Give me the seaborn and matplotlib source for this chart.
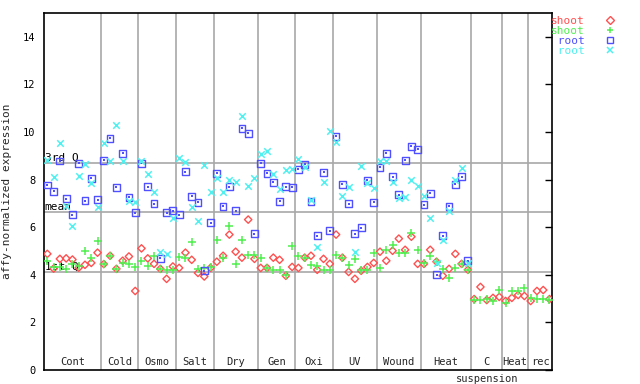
import numpy as np
import pandas as pd
import matplotlib
matplotlib.use("Agg")
import matplotlib.pyplot as plt
import matplotlib.transforms as mtransforms
from matplotlib.lines import Line2D
import seaborn as sns

# condition groups along the x axis (number of samples in each)
group_labels = ["Cont", "Cold", "Osmo", "Salt", "Dry", "Gen", "Oxi", "UV",
                "Wound", "Heat", "C\nsuspension", "Heat", "rec"]
group_sizes = [9, 6, 6, 6, 7, 6, 6, 7, 7, 8, 5, 4, 4]

# summary lines
q3_value = 8.69
mean_value = 6.62
q1_value = 4.10

nan = np.nan

shoot_rep1 = [4.88, 4.26, 4.67, 4.69, 4.64, 4.30, 4.42, 4.50, 4.93,
              4.45, 4.80, 4.25, 4.59, 4.77, 3.32,
              5.11, 4.69, 4.46, 4.25, 3.83, 4.35,
              4.29, 4.93, 4.63, 4.08, 3.93, 4.29,
              4.55, 4.80, 5.69, 4.97, 4.72, 6.32, 4.67,
              4.29, 4.29, 4.72, 4.63, 3.96, 4.33,
              4.29, 4.72, 4.80, 4.21, 4.67, 4.46,
              5.69, 4.72, 4.12, 3.83, 4.17, 4.33, 4.50,
              4.97, 4.59, 5.01, 5.52, 5.05, 5.60, 4.46,
              4.46, 5.05, 4.55, 3.96, 4.25, 4.88, 4.46, 4.21,
              2.98, 3.49, 2.94, 3.03, 3.07,
              2.90, 3.03, 3.15, 3.11,
              2.90, 3.32, 3.36, 2.98]

shoot_rep2 = [4.60, 4.32, 4.32, 4.25, 4.46, 4.35, 5.02, 4.71, 5.40,
              4.46, 4.77, 4.25, 4.50, 4.46, 4.32,
              4.56, 4.38, 4.80, 4.23, 4.21, 4.21,
              4.76, 4.72, 5.39, 4.25, 4.30, 4.33,
              5.47, 4.72, 6.07, 4.46, 5.47, 4.84, 4.84,
              4.72, 4.29, 4.21, 4.21, 4.00, 5.22,
              4.80, 4.72, 4.42, 4.38, 4.21, 4.21,
              4.84, 4.72, 4.42, 4.67, 4.21, 4.21, 4.93,
              4.29, 5.05, 5.26, 4.93, 4.93, 5.77, 5.05,
              4.50, 4.80, 4.55, 4.25, 3.87, 4.29, 4.46, 4.21,
              2.94, 2.94, 2.98, 2.90, 3.36,
              2.82, 3.32, 3.32, 3.45,
              3.03, 2.98, 2.98, 2.94]

root_rep1 = [7.77, 7.51, 8.78, 7.20, 6.53, 8.68, 7.12, 8.05, 7.16,
             8.81, 9.74, 7.67, 9.10, 7.25, 6.61,
             8.68, 7.71, 6.99, 4.69, 6.61, 6.70,
             6.53, 8.34, 7.29, 7.04, 4.17, 6.19,
             8.26, 6.87, 7.71, 6.70, 10.16, 9.95, 5.73,
             8.68, 8.26, 7.88, 7.08, 7.71, 7.67,
             8.43, 8.64, 7.08, 5.64, 8.30, 5.85,
             9.82, 7.80, 6.99, 5.73, 5.98, 7.97, 7.04,
             8.51, 9.10, 8.13, 7.37, 8.81, 9.40, 9.27,
             6.95, 7.42, 4.00, 5.64, 6.87, 7.80, 8.13, 4.59,
             nan, nan, nan, nan, nan,
             nan, nan, nan, nan,
             nan, nan, nan, nan]

root_rep2 = [8.82, 8.09, 9.53, 6.88, 6.06, 8.15, 8.64, 7.84, 6.83,
             9.53, 8.78, 10.29, 8.78, 7.10, 7.04,
             8.78, 8.22, 7.47, 4.95, 4.88, 6.40,
             8.89, 8.72, 6.83, 6.25, 8.60, 7.50,
             8.05, 7.46, 7.97, 7.88, 10.68, 7.75, 8.05,
             9.06, 9.19, 8.22, 7.59, 8.39, 8.43,
             8.85, 8.51, 7.16, 5.18, 7.92, 10.03,
             9.57, 7.29, 7.67, 4.97, 8.56, 7.84, 7.63,
             8.77, 8.77, 7.88, 7.21, 7.25, 7.97, 7.75,
             7.33, 6.40, 4.50, 5.47, 6.70, 7.97, 8.47, 4.50,
             nan, nan, nan, nan, nan,
             nan, nan, nan, nan,
             nan, nan, nan, nan]

series = [
    ("shoot", shoot_rep1, "#ff5050", "D", 14),
    ("shoot", shoot_rep2, "#50f050", "+", 30),
    (" root", root_rep1, "#5050ff", "s", 24),
    (" root", root_rep2, "#50f0f0", "x", 22),
]

sns.set_style("white")
plt.rcParams["font.family"] = ["DejaVu Sans Mono"]
plt.rcParams["font.size"] = 7.5

fig, ax = plt.subplots(figsize=(6.4, 3.84), dpi=100)
fig.subplots_adjust(left=44 / 640, right=552 / 640, bottom=14 / 384, top=1 - 13 / 384)

sample_idx = np.arange(len(shoot_rep1))
grid_col = "#a8a8a8"

# group separators and summary lines
bounds = np.cumsum(group_sizes)[:-1] - 0.5
for b in bounds:
    ax.axvline(b, color=grid_col, lw=1.2, zorder=1)
for val in [q3_value, mean_value, q1_value]:
    ax.axhline(val, color=grid_col, lw=1.2, zorder=1)

for name, vals, col, mk, sz in series:
    df = pd.DataFrame({"sample": sample_idx, "value": vals}).dropna()
    if mk in ("+", "x"):
        sns.scatterplot(data=df, x="sample", y="value", marker=mk, s=sz,
                        color=col, linewidth=1.1, ax=ax, zorder=3)
    else:
        sns.scatterplot(data=df, x="sample", y="value", marker=mk, s=sz,
                        facecolor="none", edgecolor=col, linewidth=1.0,
                        ax=ax, zorder=3)
        if mk == "s":
            sns.scatterplot(data=df, x="sample", y="value", marker="s", s=1.5,
                            color=col, linewidth=0, ax=ax, zorder=3)

ax.set_xlim(-0.53, 80.4)
ax.set_ylim(0, 15)
ax.set_xticks([])
ax.set_yticks(np.arange(0, 15, 2))
ax.tick_params(axis="y", direction="in", length=5, width=1, right=True,
               labelright=False, colors="black", pad=6)
ax.set_xlabel("")
ax.set_ylabel("affy-normalized expression", fontsize=8, labelpad=8)
for sp in ax.spines.values():
    sp.set_color("black")
    sp.set_linewidth(1.2)

# quartile labels
for val, lab in [(q3_value, "3rd Q"), (mean_value, "mean"), (q1_value, "1st Q")]:
    ax.text(-0.45, val + 0.02, lab, ha="left", va="bottom", color="black",
            fontsize=8, zorder=2)

# group labels
trans = mtransforms.blended_transform_factory(ax.transData, ax.transAxes)
start = 0
for lab, n in zip(group_labels, group_sizes):
    center = start + (n - 1) / 2
    parts = lab.split("\n")
    ax.text(center, 0.008, parts[0], transform=trans, ha="center", va="bottom")
    if len(parts) > 1:
        ax.text(center, -0.012, parts[1], transform=trans, ha="center", va="top")
    start += n

# legend outside on the right
handles = []
for name, vals, col, mk, sz in series:
    if mk in ("+", "x"):
        h = Line2D([], [], linestyle="none", marker=mk, color=col, markersize=5,
                   markeredgewidth=1.1)
    else:
        h = Line2D([], [], linestyle="none", marker=mk, markerfacecolor="none",
                   markeredgecolor=col, markersize=4 if mk == "D" else 5)
    handles.append(h)
ax.legend(handles, [s[0] for s in series], loc="upper left",
          bbox_to_anchor=(551 / 640, 1 - 16 / 384), bbox_transform=fig.transFigure,
          frameon=False, markerfirst=False, handlelength=1.0, handletextpad=1.8,
          labelspacing=0.0, borderpad=0, borderaxespad=0, fontsize=8,
          labelcolor=[s[2] for s in series])

fig.savefig("out.png", dpi=100)
